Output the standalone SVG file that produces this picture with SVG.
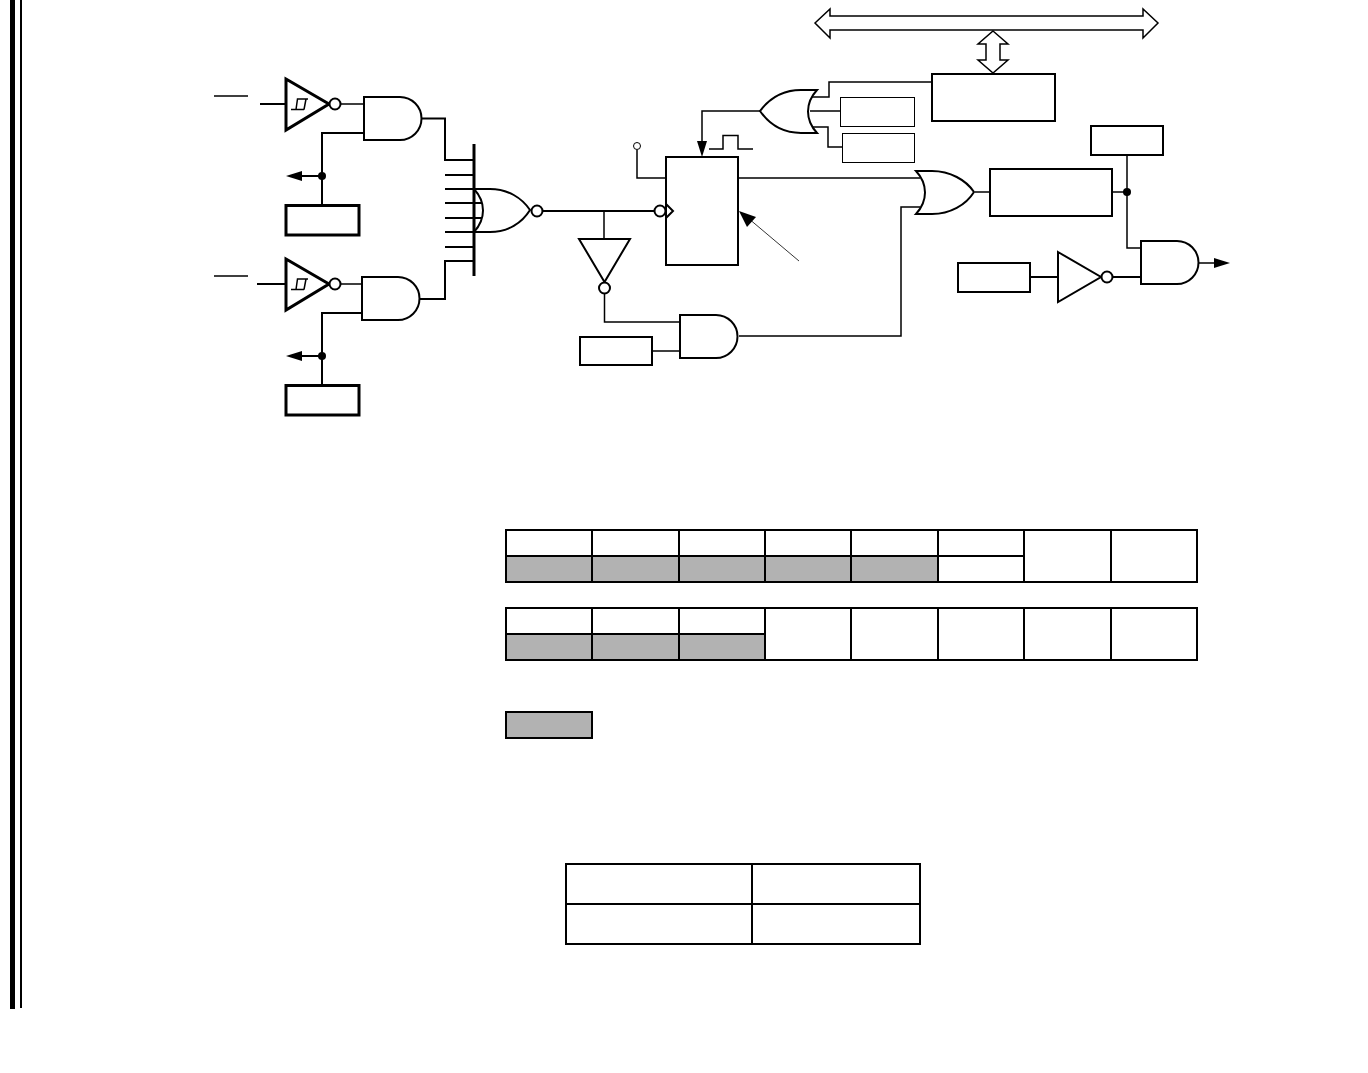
<svg xmlns="http://www.w3.org/2000/svg" width="1368" height="1073" viewBox="0 0 1368 1073">
<style>
.n{fill:#fff;stroke:#000;stroke-width:2}
.b{fill:#fff;stroke:#000;stroke-width:3}
.t{fill:#fff;stroke:#000;stroke-width:1.5}
.s{fill:#fff;stroke:#000;stroke-width:1}
.g{fill:#b2b2b2;stroke:#000;stroke-width:2}
.c{fill:none;stroke:#000;stroke-width:1.5}
.k{fill:none;stroke:#000;stroke-width:2}
.f{fill:#000;stroke:none}
.y{fill:none;stroke:#000;stroke-width:1.500}
</style>
<defs>
<g id="schmitt">
<polygon class="b" points="286,79 329,104 286,130"/>
<path class="y" d="M291 109.500H304M296 109.500L297.500 99H308M306 99L304 109.500"/>
<circle class="n" cx="335" cy="104" r="5.500"/>
</g>
<path id="and" class="n" d="M0 0H36A21.500 21.500 0 0 1 36 43H0Z"/>
</defs>
<rect width="1368" height="1073" fill="#fff"/>
<g id="margin-bars">
<rect class="f" x="10" y="0" width="5" height="1009"/>
<rect class="f" x="20" y="0" width="2" height="1008"/>
</g>
<g id="connectors">
<path class="c" d="M214 96H248M214 276H248"/>
<path class="k" d="M260 104H286M257 284H286"/>
<path class="c" d="M340 104H364M340 284H362"/>
<path class="k" d="M421 118.500H445V160H474M420 299H445V261H474"/>
<path class="k" d="M322 205V133H364M322 385V313H362M302 176H322M302 356H322"/>
<path class="k" d="M445 175H474M445 189H476M445 203H482M445 218H482M445 232H476M445 247H474"/>
<path d="M474 144V276" fill="none" stroke="#000" stroke-width="3"/>
<path class="k" d="M542 211H655"/>
<path class="c" d="M604 211V239M604.500 293V322H680M652 351H680M739 336H901V207H920M738 178H920M637 150V178H666"/>
<path class="c" d="M975 192H990M1112 192H1127M1127 155V248H1141M1199 263H1216"/>
<path class="k" d="M1030 277H1058M1113 277H1141"/>
<path class="c" d="M932 82H829V97H812M810 111H841M812 127H828V147H842M760 111H702V144"/>
<path class="c" d="M709 149H723V135.500H738V149H753"/>
<path d="M799 261L748 218" fill="none" stroke="#000" stroke-width="0.800"/>
<polygon class="f" points="739,211 756,217 747,227"/>
<polygon class="f" points="702,157 697,141 707,141"/>
<polygon class="f" points="286,176 302,171 302,181"/>
<polygon class="f" points="286,356 302,351 302,361"/>
<polygon class="f" points="1230,263 1214,258 1214,268"/>
<circle class="f" cx="322" cy="176" r="4"/>
<circle class="f" cx="322" cy="356" r="4"/>
<circle class="f" cx="1127" cy="192" r="4"/>
<circle cx="637" cy="146" r="3.500" fill="#fff" stroke="#000" stroke-width="1"/>
</g>
<g id="data-bus">
<polygon class="t" points="815,23 830,9 830,16 1143,16 1143,9 1158,23 1143,38 1143,30 830,30 830,38"/>
<polygon class="t" points="993,31 1008,44 1000,44 1000,60 1008,60 993,73 978,60 986,60 986,44 978,44"/>
</g>
<g id="schmitt-1"><use href="#schmitt"/></g>
<g id="schmitt-2"><use href="#schmitt" y="180"/></g>
<g id="and-1"><use href="#and" x="364" y="97"/></g>
<g id="and-2"><use href="#and" x="362" y="277"/></g>
<g id="box-1"><rect class="b" x="286" y="205.500" width="73" height="29.500"/></g>
<g id="box-2"><rect class="b" x="286" y="385.500" width="73" height="29.500"/></g>
<g id="nor-gate">
<path class="n" d="M474 189H490C508 189 522 198 530 210C522 223 508 232 490 232H474C486 219 486 202 474 189Z"/>
<circle class="n" cx="537" cy="211" r="5.500"/>
</g>
<g id="flip-flop">
<rect class="n" x="666" y="157" width="72" height="108" stroke-width="2"/>
<path class="k" d="M666 204L673 211L666 218"/>
<circle class="n" cx="660" cy="211" r="5.500"/>
</g>
<g id="inverter-down">
<polygon class="n" points="579,239 630,239 604.500,282"/>
<circle class="n" cx="604.500" cy="288" r="5.500"/>
</g>
<g id="and-3"><use href="#and" x="680" y="315"/></g>
<g id="box-3"><rect class="n" x="580" y="337" width="72" height="28"/></g>
<g id="or-left">
<path class="n" d="M817 90H801C783 90 769 99 760 111C769 124 783 133 801 133H817C805 120 805 103 817 90Z"/>
</g>
<g id="box-4"><rect class="s" x="840.500" y="97.500" width="74" height="29"/></g>
<g id="box-5"><rect class="s" x="842.500" y="133.500" width="72" height="29"/></g>
<g id="register"><rect class="n" x="932" y="74" width="123" height="47"/></g>
<g id="or-right">
<path class="n" d="M916 171H932C950 171 966 180 974 192C966 205 950 214 932 214H916C928 201 928 184 916 171Z"/>
</g>
<g id="box-6"><rect class="n" x="990" y="169" width="122" height="47"/></g>
<g id="box-7"><rect class="n" x="1091" y="126" width="72" height="29"/></g>
<g id="box-8"><rect class="n" x="958" y="263" width="72" height="29"/></g>
<g id="inverter-right">
<polygon class="n" points="1058,252 1101,277 1058,302"/>
<circle class="n" cx="1107" cy="277" r="5.500"/>
</g>
<g id="and-4"><use href="#and" x="1141" y="241"/></g>
<g id="table-1">
<rect class="n" x="506" y="530" width="691" height="52"/>
<rect class="g" x="506" y="556" width="86" height="26"/>
<rect class="g" x="592" y="556" width="87" height="26"/>
<rect class="g" x="679" y="556" width="86" height="26"/>
<rect class="g" x="765" y="556" width="86" height="26"/>
<rect class="g" x="851" y="556" width="87" height="26"/>
<path class="k" d="M938 556H1024M592 530V556M679 530V556M765 530V556M851 530V556M938 530V556M1024 530V582M1111 530V582"/>
</g>
<g id="table-2">
<rect class="n" x="506" y="608" width="691" height="52"/>
<rect class="g" x="506" y="634" width="86" height="26"/>
<rect class="g" x="592" y="634" width="87" height="26"/>
<rect class="g" x="679" y="634" width="86" height="26"/>
<path class="k" d="M592 608V634M679 608V634M765 608V660M851 608V660M938 608V660M1024 608V660M1111 608V660"/>
</g>
<g id="legend"><rect class="g" x="506" y="712" width="86" height="26"/></g>
<g id="table-3">
<rect class="n" x="566" y="864" width="354" height="80"/>
<path class="k" d="M566 904H920M752 864V944"/>
</g>
</svg>
